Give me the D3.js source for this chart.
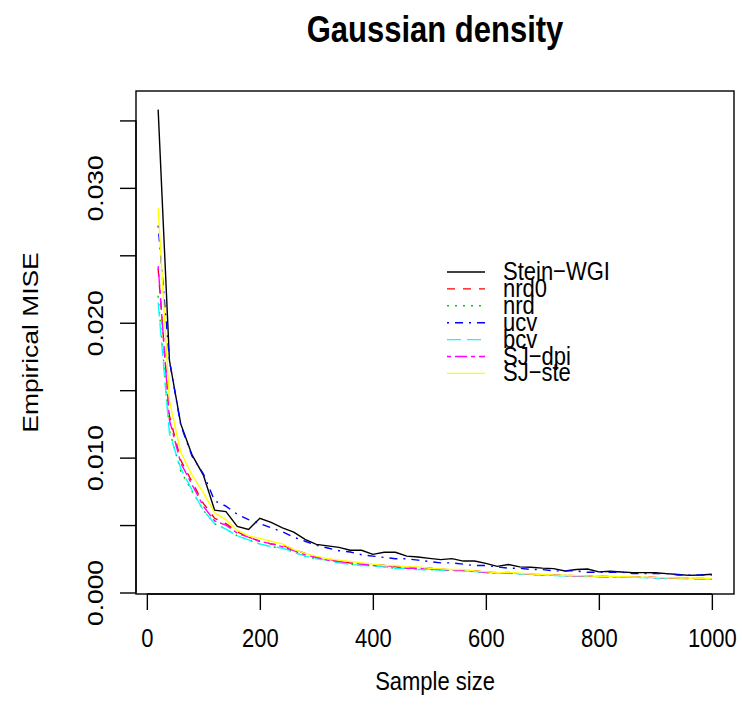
<!DOCTYPE html>
<html>
<head>
<meta charset="utf-8">
<script src="https://cdn.jsdelivr.net/npm/d3@7"></script>
<style>
  body { margin: 0; background: #fff; }
  text { font-family: "Liberation Sans", Arial, sans-serif; fill: #000; }
</style>
</head>
<body>
<svg id="chart" width="742" height="720"></svg>
<script>
// sample sizes 20, 40, ..., 1000
var sampleSizes = [20,40,60,80,100,120,140,160,180,200,220,240,260,280,300,320,340,360,380,400,
                   420,440,460,480,500,520,540,560,580,600,620,640,660,680,700,720,740,760,780,800,
                   820,840,860,880,900,920,940,960,980,1000];

var steinWGI = [0.0358,0.0172,0.0125,0.0102,0.0087,0.0061,0.0060,0.0049,0.00468,0.0055,
                0.0052,0.00479,0.00448,0.00394,0.00357,0.00346,0.00335,0.00313,0.00313,0.00283,
                0.00298,0.00298,0.0027,0.00263,0.00253,0.00244,0.00251,0.00233,0.00233,0.00216,
                0.00194,0.00207,0.0019,0.00187,0.00181,0.00177,0.00159,0.0017,0.00174,0.00153,
                0.00157,0.00152,0.00147,0.00147,0.00146,0.0014,0.00133,0.00127,0.0013,0.00135];
var nrd0 = [0.0240,0.0131,0.0098,0.0082,0.0066,0.0055,0.0051,0.0045,0.0041,0.0038,
            0.0036,0.0035,0.0032,0.0029,0.0026,0.0025,0.0023,0.0022,0.0021,0.0021,
            0.0020,0.0019,0.0019,0.0018,0.0018,0.00172,0.00168,0.00166,0.0016,0.00152,
            0.00146,0.00148,0.0014,0.00136,0.00132,0.00129,0.00127,0.00124,0.00122,0.0012,
            0.00118,0.00116,0.00116,0.00113,0.00112,0.0011,0.00107,0.00106,0.00104,0.00103];
var nrd = [0.0220,0.0120,0.0090,0.0075,0.0061,0.0051,0.0047,0.0042,0.0039,0.0036,
           0.0034,0.0033,0.0030,0.0027,0.0025,0.0024,0.0022,0.0021,0.0020,0.0020,
           0.0019,0.0018,0.0018,0.0017,0.0017,0.00167,0.00163,0.00161,0.00156,0.00148,
           0.00143,0.00146,0.00139,0.00134,0.0013,0.00127,0.00125,0.00122,0.0012,0.00118,
           0.00116,0.00114,0.00113,0.00111,0.00109,0.00107,0.00105,0.00103,0.00101,0.001];
var ucv = [0.0272,0.0172,0.0124,0.0101,0.0088,0.0068,0.0064,0.0058,0.0054,0.0051,
           0.0048,0.0045,0.0041,0.0038,0.0035,0.0033,0.0031,0.0030,0.0028,0.0027,
           0.0026,0.0025,0.0025,0.0024,0.0023,0.0022,0.0022,0.0021,0.0020,0.0020,
           0.0019,0.0018,0.0018,0.0017,0.0017,0.0016,0.0016,0.0016,0.0015,0.0015,
           0.0015,0.0015,0.0014,0.0014,0.0014,0.0014,0.0013,0.0013,0.0013,0.0013];
var bcv = [0.0215,0.0118,0.0092,0.0076,0.0061,0.0051,0.0047,0.0042,0.0039,0.0036,
           0.0034,0.0033,0.0030,0.0027,0.0025,0.0024,0.0022,0.0021,0.0020,0.0020,
           0.0019,0.0018,0.0018,0.0017,0.0017,0.00166,0.00162,0.0016,0.00155,0.00148,
           0.00142,0.00145,0.00138,0.00133,0.00129,0.00126,0.00124,0.00121,0.00119,0.00117,
           0.00115,0.00113,0.00112,0.0011,0.00108,0.00106,0.00104,0.00102,0.001,0.00099];
var sjDpi = [0.0242,0.0128,0.0096,0.0080,0.0064,0.0053,0.0050,0.0044,0.0041,0.0038,
             0.0036,0.0034,0.0031,0.0028,0.0026,0.0024,0.0023,0.0022,0.0021,0.0020,
             0.0020,0.0019,0.0018,0.0018,0.00175,0.0017,0.00166,0.00164,0.00158,0.0015,
             0.00144,0.00147,0.0014,0.00135,0.00131,0.00128,0.00126,0.00123,0.00121,0.00119,
             0.00117,0.00115,0.00114,0.00112,0.0011,0.00109,0.00107,0.00105,0.00103,0.00102];
var sjSte = [0.0285,0.0142,0.0104,0.0087,0.0074,0.0059,0.0054,0.0046,0.0042,0.0040,
             0.0038,0.0036,0.0032,0.0029,0.0027,0.0025,0.0024,0.0023,0.0022,0.0021,
             0.0020,0.0020,0.0019,0.0019,0.0018,0.00175,0.0017,0.0017,0.0016,0.00155,
             0.00145,0.0015,0.00143,0.00137,0.00134,0.0013,0.00128,0.00125,0.00123,0.0012,
             0.00119,0.00117,0.00115,0.00114,0.00112,0.0011,0.00108,0.00107,0.00105,0.00104];

var seriesNames = ["Stein\u2212WGI","nrd0","nrd","ucv","bcv","SJ\u2212dpi","SJ\u2212ste"];
var seriesValues = [steinWGI, nrd0, nrd, ucv, bcv, sjDpi, sjSte];

var xTicks = [0,200,400,600,800,1000];
var yTicks = [0,0.005,0.01,0.015,0.02,0.025,0.03,0.035];
var yTickLabels = ["0.000","","0.010","","0.020","","0.030",""];

// R palette + lty 1..6,1
var colors = ["#000000","#FF0000","#00CD00","#0000FF","#00FFFF","#FF00FF","#FFFF00"];
var dashes = [null,"8,8","2,6","2,6,8,6","14,6","4,4,12,4",null];

var box = {left: 136, right: 734, top: 91, bottom: 594};
var stretch = 1.2;   // the glyphs in the reference are taller than wide

var svg = d3.select("#chart");

// R style 4% padding on the first series range
var xExt = d3.extent(sampleSizes), xPad = (xExt[1]-xExt[0])*0.04;
var yExt = d3.extent(steinWGI), yPad = (yExt[1]-yExt[0])*0.04;

var x = d3.scaleLinear()
    .domain([xExt[0]-xPad, xExt[1]+xPad])
    .range([box.left, box.right]);
var y = d3.scaleLinear()
    .domain([yExt[0]-yPad, yExt[1]+yPad])
    .range([box.bottom, box.top]);

function label(parent, tx, ty, str, size, anchor, rot) {
    return parent.append("text")
        .attr("transform", "translate(" + tx + "," + ty + ") scale(1," + stretch + ")" + (rot ? " rotate(-90)" : ""))
        .attr("text-anchor", anchor)
        .style("font-size", size + "px")
        .text(str);
}

// title
label(svg, (box.left+box.right)/2, 42, "Gaussian density", 31, "middle")
    .style("font-weight", "bold");

// series
var line = d3.line()
    .x(function(d, i) { return x(sampleSizes[i]); })
    .y(function(d) { return y(d); });

var gLines = svg.append("g");
seriesValues.forEach(function(vals, k) {
    gLines.append("path")
        .datum(vals)
        .attr("d", line)
        .attr("fill", "none")
        .attr("stroke", colors[k])
        .attr("stroke-width", 1.4)
        .attr("stroke-dasharray", dashes[k]);
});

// box
svg.append("rect")
    .attr("x", box.left).attr("y", box.top)
    .attr("width", box.right-box.left).attr("height", box.bottom-box.top)
    .attr("fill", "none")
    .attr("stroke", "#000")
    .attr("stroke-width", 1.4);

// x axis
var gx = svg.append("g")
    .attr("transform", "translate(0," + box.bottom + ")")
    .call(d3.axisBottom(x).tickValues(xTicks).tickSize(16).tickFormat(""));
gx.select(".domain").remove();
gx.append("line")
    .attr("x1", x(xTicks[0])).attr("x2", x(xTicks[xTicks.length-1]))
    .attr("stroke", "#000").attr("stroke-width", 1.4);
gx.selectAll(".tick line").attr("stroke-width", 1.4);
gx.selectAll(".tick").each(function(d) {
    label(d3.select(this), 0, 53, d3.format("d")(d), 22, "middle");
});

// y axis
var gy = svg.append("g")
    .attr("transform", "translate(" + box.left + ",0)")
    .call(d3.axisLeft(y).tickValues(yTicks).tickSize(16).tickFormat(""));
gy.select(".domain").remove();
gy.append("line")
    .attr("y1", y(yTicks[0])).attr("y2", y(yTicks[yTicks.length-1]))
    .attr("stroke", "#000").attr("stroke-width", 1.4);
gy.selectAll(".tick line").attr("stroke-width", 1.4);
gy.selectAll(".tick").each(function(d, i) {
    if (yTickLabels[i]) label(d3.select(this), -33, 0, yTickLabels[i], 22, "middle", true);
});

// axis titles
label(svg, (box.left+box.right)/2, 690, "Sample size", 22, "middle");
label(svg, 38, (box.top+box.bottom)/2, "Empirical MISE", 22, "middle", true);

// legend
var legend = svg.append("g").attr("transform", "translate(447,272)");
seriesNames.forEach(function(name, k) {
    var row = legend.append("g").attr("transform", "translate(0," + (k*16.9) + ")");
    row.append("line")
        .attr("x1", 0).attr("x2", 38)
        .attr("stroke", colors[k])
        .attr("stroke-width", 1.4)
        .attr("stroke-dasharray", dashes[k]);
    label(row, 56, 8, name, 22, "start");
});
</script>
</body>
</html>
